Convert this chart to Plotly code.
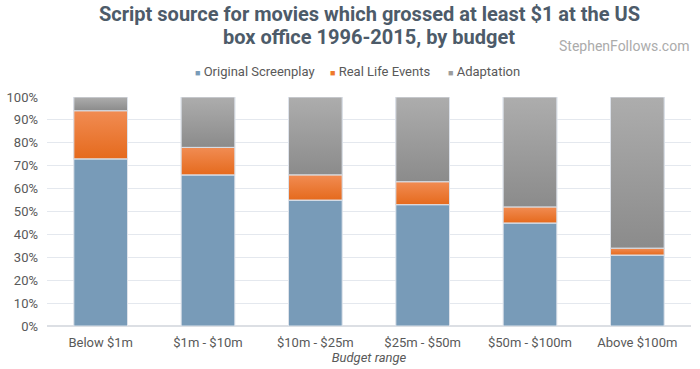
import plotly.graph_objects as go

categories = ["Below $1m", "$1m - $10m", "$10m - $25m", "$25m - $50m", "$50m - $100m", "Above $100m"]
original = [73, 66, 55, 53, 45, 31]
real_life = [21, 12, 11, 10, 7, 3]
adaptation = [6, 22, 34, 37, 48, 66]
tick_vals = [0, 10, 20, 30, 40, 50, 60, 70, 80, 90, 100]
tick_text = [f"{v}%" for v in tick_vals]

series_names = ["Original Screenplay", "Real Life Events", "Adaptation"]
series_values = [original, real_life, adaptation]
series_colors = ["#789bb8", "#ee7a2c", "#9c9c9c"]
# gradient (bottom, top) for each series; None = solid
series_gradients = [None, ("#e56a1d", "#f18c53"), ("#8b8b8b", "#adadad")]
legend_x = [0.2267, 0.4363, 0.6196]
outline = "#dde2ea"
bar_width = 0.5

positions = list(range(len(categories)))

fig = go.Figure()
base = [0] * len(categories)
for name, vals, col, grad in zip(series_names, series_values, series_colors, series_gradients):
    fig.add_trace(go.Bar(
        x=positions, y=vals, base=base, name=name, width=bar_width,
        marker=dict(color=col, line=dict(color=outline, width=1)),
    ))
    if grad is not None:
        for i, (b, v) in enumerate(zip(base, vals)):
            x0, x1 = i - bar_width / 2, i + bar_width / 2
            y0, y1 = b, b + v
            fig.add_trace(go.Scatter(
                x=[x0, x1, x1, x0, x0], y=[y0, y0, y1, y1, y0],
                mode="lines", fill="toself",
                line=dict(color=outline, width=1),
                fillgradient=dict(type="vertical", colorscale=[[0, grad[0]], [1, grad[1]]]),
                hoverinfo="skip", showlegend=False,
            ))
    base = [b + v for b, v in zip(base, vals)]

fig.update_layout(
    barmode="overlay",
    width=700, height=369,
    margin=dict(l=47, r=9, t=97, b=43),
    paper_bgcolor="white", plot_bgcolor="white",
    font=dict(family="Roboto", color="#595959", size=13),
    showlegend=False,
)
fig.update_yaxes(
    range=[0, 100], tickvals=tick_vals, ticktext=tick_text,
    showgrid=True, gridcolor="#e4e8ee", gridwidth=1,
    zeroline=True, zerolinecolor="#dcdfe4", ticks="", ticklen=0,
    tickfont=dict(size=13, color="#595959"), automargin=False,
    ticklabelstandoff=8,
)
fig.update_xaxes(
    range=[-0.5, len(categories) - 0.5], tickvals=positions, ticktext=categories,
    showgrid=False, zeroline=False,
    title=dict(text="<i>Budget range</i>", font=dict(size=13, color="#595959"), standoff=2),
    tickfont=dict(size=13, color="#595959"),
    showline=False, automargin=False, ticklabelstandoff=7,
)

# Title (two centred lines)
title_lines = ["Script source for movies which grossed at least $1 at the US",
               "box office 1996-2015, by budget"]
for line, yy in zip(title_lines, [1.3624, 1.262]):
    fig.add_annotation(
        text=f"<b>{line}</b>", xref="paper", yref="paper",
        x=0.5, xanchor="center", y=yy, yanchor="middle", showarrow=False,
        font=dict(family="Roboto", size=20, color="#4d5b69"),
    )

# Legend row
for name, col, lx in zip(series_names, series_colors, legend_x):
    fig.add_annotation(
        text=f'<span style="color:{col};font-size:9px">■</span> {name}',
        xref="paper", yref="paper", x=lx, xanchor="left", y=1.1135, yanchor="middle",
        showarrow=False, font=dict(family="Roboto", size=13, color="#595959"),
    )

fig.add_annotation(
    text="StephenFollows.com", xref="paper", yref="paper",
    x=1.0, xanchor="right", y=1.223, yanchor="middle", showarrow=False,
    font=dict(family="Roboto", size=14, color="#ababab"),
)
fig.write_html("out.html", config={"displayModeBar": False},
               post_script="document.body.style.margin='0';")
